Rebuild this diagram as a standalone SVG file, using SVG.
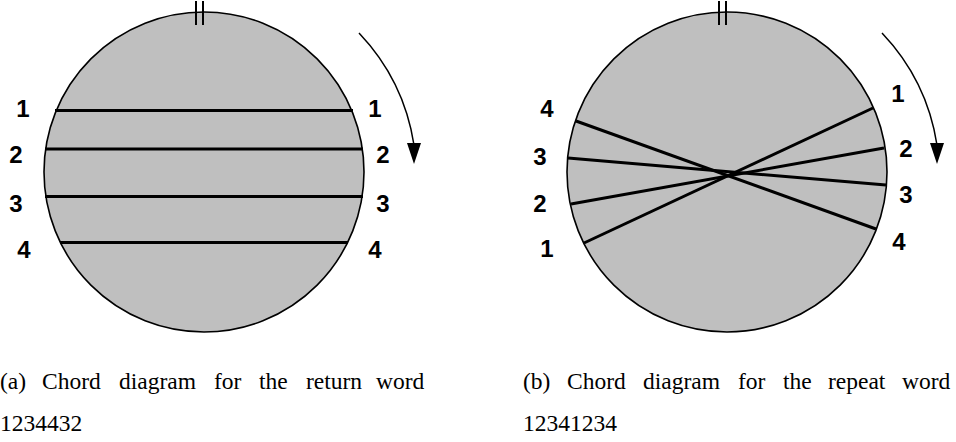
<svg xmlns="http://www.w3.org/2000/svg" width="956" height="442" viewBox="0 0 956 442">
  <style>
    .disc { fill: #bfbfbf; stroke: #000; stroke-width: 1.6; }
    .chord { stroke: #000; stroke-width: 3; stroke-linecap: butt; fill: none; }
    .tick { stroke: #000; stroke-width: 2; }
    .dir { stroke: #000; stroke-width: 1.5; fill: none; }
    .head { fill: #000; }
    .lbl { font-family: "Liberation Sans", Arial, sans-serif; font-weight: bold; font-size: 24px; fill: #000; text-anchor: middle; }
    .cap { font-family: "Liberation Serif", "Times New Roman", serif; font-size: 23.5px; fill: #000; }
  </style>

  <!-- Panel (a): return word 1234432 -->
  <g id="panel-a">
    <circle class="disc" cx="204" cy="172" r="160"/>
    <line class="tick" x1="196" y1="1" x2="196" y2="25"/>
    <line class="tick" x1="203" y1="1" x2="203" y2="25"/>
    <g id="chords-a">
      <line class="chord" x1="55" y1="110.5" x2="353" y2="110.5"/>
      <line class="chord" x1="45" y1="149" x2="363" y2="149"/>
      <line class="chord" x1="45" y1="196.5" x2="363" y2="196.5"/>
      <line class="chord" x1="60" y1="242.5" x2="348" y2="242.5"/>
    </g>
    <path class="dir" d="M359 33 A209 209 0 0 1 414 145"/>
    <polygon class="head" points="407,143 421,143 414,164"/>
    <g id="labels-a">
      <text class="lbl" x="23" y="117">1</text>
      <text class="lbl" x="16" y="163">2</text>
      <text class="lbl" x="16" y="212">3</text>
      <text class="lbl" x="24" y="258">4</text>
      <text class="lbl" x="375" y="117">1</text>
      <text class="lbl" x="383" y="163">2</text>
      <text class="lbl" x="383" y="212">3</text>
      <text class="lbl" x="375" y="258">4</text>
    </g>
    <g id="caption-a" class="cap">
      <text x="0" y="389">(a)</text>
      <text x="42" y="389">Chord</text>
      <text x="119" y="389">diagram</text>
      <text x="214" y="389">for</text>
      <text x="259" y="389">the</text>
      <text x="306" y="389">return</text>
      <text x="376" y="389">word</text>
      <text x="0" y="431">1234432</text>
    </g>
  </g>

  <!-- Panel (b): repeat word 12341234 -->
  <g id="panel-b">
    <circle class="disc" cx="727" cy="172" r="160"/>
    <line class="tick" x1="719" y1="1" x2="719" y2="25"/>
    <line class="tick" x1="726" y1="1" x2="726" y2="25"/>
    <g id="chords-b">
      <line class="chord" x1="584" y1="243" x2="873" y2="108"/>
      <line class="chord" x1="571" y1="204" x2="884" y2="148"/>
      <line class="chord" x1="568" y1="158" x2="886" y2="185"/>
      <line class="chord" x1="576" y1="121" x2="876" y2="229"/>
    </g>
    <path class="dir" d="M882 33 A209 209 0 0 1 937 145"/>
    <polygon class="head" points="930,143 944,143 937,164"/>
    <g id="labels-b">
      <text class="lbl" x="547" y="117">4</text>
      <text class="lbl" x="540" y="165">3</text>
      <text class="lbl" x="540" y="212">2</text>
      <text class="lbl" x="547" y="257">1</text>
      <text class="lbl" x="898" y="102">1</text>
      <text class="lbl" x="906" y="157">2</text>
      <text class="lbl" x="906" y="203">3</text>
      <text class="lbl" x="899" y="250">4</text>
    </g>
    <g id="caption-b" class="cap">
      <text x="523" y="389">(b)</text>
      <text x="567" y="389">Chord</text>
      <text x="643" y="389">diagram</text>
      <text x="738" y="389">for</text>
      <text x="783" y="389">the</text>
      <text x="828" y="389">repeat</text>
      <text x="902" y="389">word</text>
      <text x="523" y="431">12341234</text>
    </g>
  </g>
</svg>
